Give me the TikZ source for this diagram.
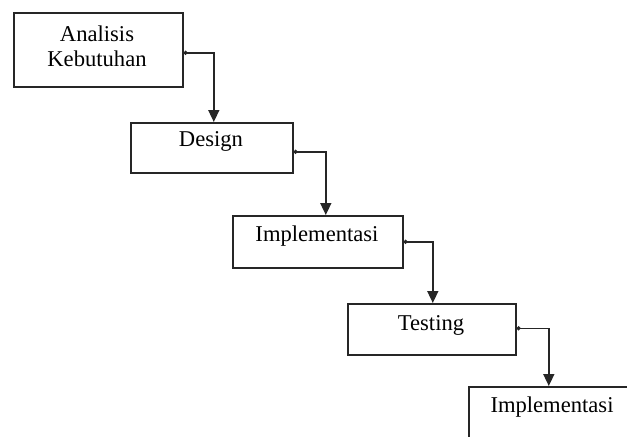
\documentclass[tikz,border=0pt]{standalone}
\usepackage{fontspec}
\setmainfont{Liberation Serif}
\usetikzlibrary{arrows.meta}
\begin{document}
\begin{tikzpicture}[x=0.5pt,y=-0.5pt,
  stagebox/.style={draw=black!85, line width=0.8pt, inner sep=0pt, anchor=north west, fill=none},
  stagetext/.style={inner sep=0pt, font=\fontsize{11.3}{12.5}\selectfont, align=center},
  conn/.style={draw=black!85, line width=0.8pt, {Circle[length=2pt]}-{Triangle[length=6pt,width=5.5pt]}}
]
\useasboundingbox (0,0) rectangle (627,436);
\begin{scope}
\clip (0,0) rectangle (627,436);
\node[stagebox, minimum width=84.5pt, minimum height=37pt] (s1) at (13,12) {};
\node[stagebox, minimum width=81pt, minimum height=25pt] (s2) at (130,122) {};
\node[stagebox, minimum width=85pt, minimum height=26pt] (s3) at (232,215) {};
\node[stagebox, minimum width=84pt, minimum height=25.5pt] (s4) at (347,303) {};
\node[stagebox, minimum width=85pt, minimum height=40pt] (s5) at (468,386) {};

\node[stagetext] (t1) at (97,46) {Analisis\\Kebutuhan};
\node[stagetext] (t2) at (211,141) {Design};
\node[stagetext] (t3) at (317,236) {Implementasi};
\node[stagetext] (t4) at (431,325) {Testing};
\node[stagetext] (t5) at (552,407) {Implementasi};

\draw[conn] ([yshift=-1.5pt]s1.east) -| ([xshift=1pt]s2.north);
\draw[conn] ([yshift=-2pt]s2.east) -| ([xshift=4pt]s3.north);
\draw[conn] (s3.east) -| ([xshift=0.5pt]s4.north);
\draw[conn] ([yshift=0.5pt]s4.east) -| ([xshift=-2.5pt]s5.north);
\end{scope}
\end{tikzpicture}
\end{document}
